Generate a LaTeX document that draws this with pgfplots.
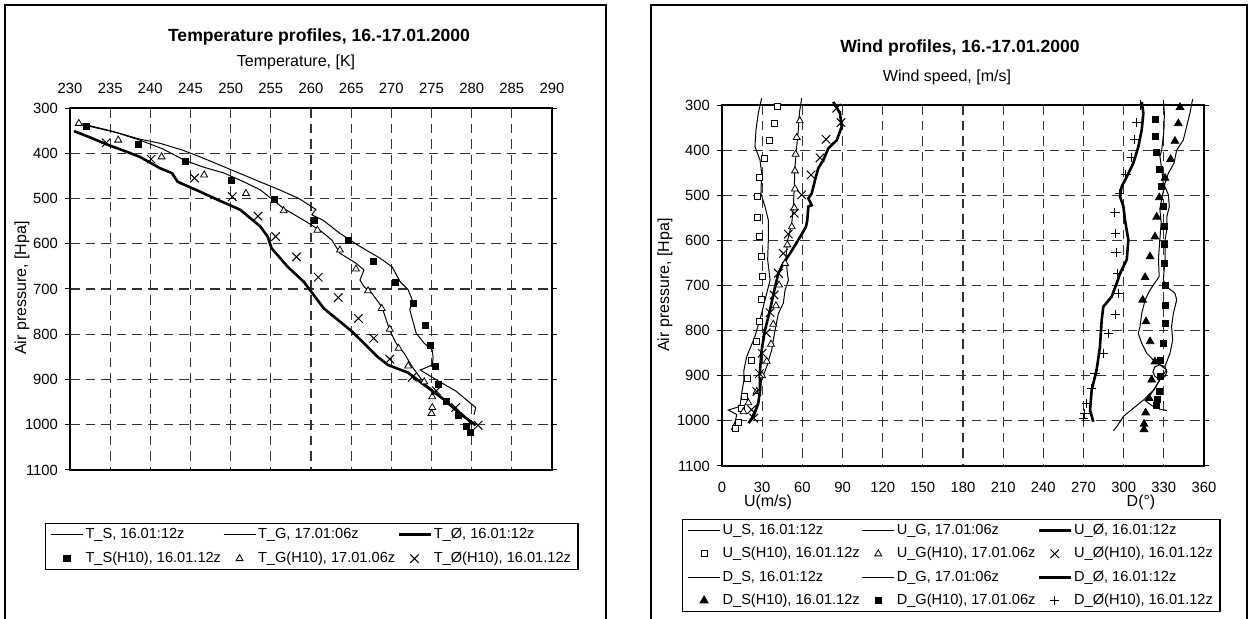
\documentclass[border=0pt]{standalone}
\usepackage{fontspec}
\setmainfont{Liberation Sans}
\usepackage{pgfplots}
\pgfplotsset{compat=1.18}
\newcommand\fs[1]{\fontsize{#1}{#1}\selectfont}
\pgfplotsset{
  limg/.style={legend image code/.code={\draw[mark repeat=2,mark phase=2,##1] plot coordinates {(0pt,0pt) (8pt,0pt) (16pt,0pt)};}},
  common/.style={
    scale only axis, width=241pt,
    y dir=reverse, ymin=300, ymax=1100, ytick={300,400,...,1100},
    grid=major,
    major grid style={dash pattern=on 4.8pt off 3pt, black!80, line width=0.55pt},
    axis line style={line width=0.6pt},
    tick align=outside, major tick length=2.5pt,
    ytick style={black, line width=0.5pt},
    xtick style={draw=none},
    ticklabel style={font=\fs{7.4}},
    /pgf/number format/assume math mode=true,
    /pgf/number format/1000 sep={},
    legend columns=3,
    legend cell align=left,
    legend style={font=\fs{7.3}, draw=black, line width=0.6pt, inner xsep=2.5pt, inner ysep=2pt,
      nodes={inner xsep=1pt, inner ysep=0pt, text height=5.3pt, text depth=1.5pt}},
    limg,
  },
  thinl/.style={black, line width=0.5pt, no marks, limg},
  thickl/.style={black, line width=1.3pt, no marks, limg},
  sqf/.style={only marks, mark=square*, mark size=1.5pt, mark options={fill=black, draw=black}, limg},
  sqo/.style={only marks, mark=square*, mark size=1.5pt, mark options={fill=white, draw=black, line width=0.4pt}, limg},
  tro/.style={only marks, mark=triangle*, mark size=2pt, mark options={fill=white, draw=black, line width=0.4pt}, limg},
  trf/.style={only marks, mark=triangle*, mark size=2.2pt, mark options={fill=black, draw=black}, limg},
  xm/.style={only marks, mark=x, mark size=3pt, mark options={black, line width=0.5pt}, limg},
  pm/.style={only marks, mark=+, mark size=2.3pt, mark options={black, line width=0.5pt}, limg},
}
\begin{document}
\begin{tikzpicture}
\useasboundingbox (0,0) rectangle (624.5pt,309.5pt);
% panel frames
\draw[line width=0.7pt] (2.5pt,0pt) -- (2.5pt,307pt) -- (303pt,307pt) -- (303pt,0pt);
\draw[line width=0.7pt] (325.5pt,0pt) -- (325.5pt,307pt) -- (623.5pt,307pt) -- (623.5pt,0pt);
% titles and labels
\node[font=\bfseries\fs{8.8}] at (159.5pt,291pt) {Temperature profiles, 16.-17.01.2000};
\node[font=\fs{8}] at (148pt,278.5pt) {Temperature, [K]};
\node[font=\fs{8}, rotate=90] at (11pt,165.5pt) {Air pressure, [Hpa]};
\node[font=\bfseries\fs{8.8}] at (480pt,285.5pt) {Wind profiles, 16.-17.01.2000};
\node[font=\fs{8}] at (473.5pt,271pt) {Wind speed, [m/s]};
\node[font=\fs{8}, rotate=90] at (332.5pt,167pt) {Air pressure, [Hpa]};
\node[font=\fs{8}] at (384pt,58.5pt) {U(m/s)};
\node[font=\fs{8}] at (570.5pt,58.5pt) {D(°)};

% ---------------- Temperature ----------------
\begin{axis}[common,
  at={(35pt,74.5pt)}, anchor=south west, height=181pt,
  xmin=230, xmax=290, xtick={230,235,...,290},
  xticklabel pos=upper,
  xticklabel style={yshift=1.2pt},
  legend style={at={(-0.052,-0.146)}, anchor=north west, row sep=5.4pt},
]
\addplot[thinl] coordinates {
(232.3,340) (233.5,345) (236,355) (238.5,368) (241.2,378) (244,393) (246.2,408) (248.5,425)
(251.2,445) (253.5,462) (256.1,481) (258.5,500) (260.6,524) (260.1,536) (261.5,548) (263.6,577)
(266.1,606) (268.6,632) (270.1,651) (271.1,684) (272.1,702) (272.6,724) (272.3,746) (273.1,798)
(274.1,820) (275.1,835) (275.2,852) (275.1,868) (273.6,879) (276,905) (278,925) (280.5,962) (280.3,978)};
\addlegendentry{T\_S, 16.01:12z}
\addplot[thinl] coordinates {
(231.5,335) (235,350) (238.7,371) (241.5,390) (244.2,415) (246.5,430) (249.2,444) (251.5,462)
(253.7,481) (256.6,522) (259.1,548) (261.1,570) (262.6,592) (263.6,621) (265.6,643) (266.6,658)
(266.1,680) (266.6,695) (267.6,710) (268.8,739) (269.1,754) (269.8,791) (270.6,820) (271.6,842)
(272.6,872) (274.1,908) (275.6,930) (277.1,953) (279,978) (280,1001)};
\addlegendentry{T\_G, 17.01:06z}
\addplot[thickl] coordinates {
(230.5,351) (232.5,365) (234.5,380) (236.5,393) (238.7,408) (241.2,433) (242.7,444) (243.4,463)
(246.2,485) (248.4,503) (251.2,525) (253.7,562) (254.6,584) (255.1,610) (257.1,651) (259.1,684)
(261.6,743) (263.6,772) (265.1,794) (266.6,820) (268.3,850) (269.6,868) (272.1,885) (274.1,912)
(276.6,945) (278.5,975) (280.5,1001)};
\addlegendentry{T\_Ø, 16.01:12z}
\addplot[sqf] coordinates {
(232.1,341) (238.5,380) (244.4,419) (250.1,461) (255.4,503) (260.4,548) (264.7,593) (267.8,638)
(270.5,685) (272.7,732) (274.3,780) (274.9,825) (275.5,870) (275.8,910) (276.9,949) (278.4,980)
(279.4,1003) (279.8,1018)};
\addlegendentry{T\_S(H10), 16.01.12z}
\addplot[tro] coordinates {
(231.1,334) (236.0,371) (241.4,408) (246.7,448) (251.9,489) (256.6,527) (260.8,570) (263.6,614)
(265.6,656) (267.1,704) (268.8,743) (269.8,789) (270.9,831) (272.1,870) (274.1,905) (275.1,938)
(275.1,962) (275.0,975)};
\addlegendentry{T\_G(H10), 17.01.06z}
\addplot[xm] coordinates {
(234.5,377) (240.1,413) (245.5,455) (250.2,496) (253.4,539) (255.6,584) (258.2,629) (260.9,674)
(263.4,719) (265.9,765) (267.8,809) (269.8,855) (272.6,895) (275.6,925) (278.0,962) (280.8,1001)};
\addlegendentry{T\_Ø(H10), 16.01.12z}
\end{axis}

% ---------------- Wind ----------------
\begin{axis}[common,
  at={(361pt,76.5pt)}, anchor=south west, height=180.5pt,
  xmin=0, xmax=360, xtick={0,30,...,360},
  xticklabel style={yshift=-2pt},
  clip=false,
  legend style={at={(-0.083,-0.147)}, anchor=north west, row sep=4.9pt},
]
\addplot[thinl] coordinates {
(29.6,285) (27.1,318) (25.4,355) (24.6,392) (28.4,422) (29.6,451) (29.1,496) (32.1,525) (34.6,555)
(34.6,599) (34.1,643) (35.9,688) (33.4,717) (29.6,762) (24.6,813) (18.4,858) (16.4,887) (16.4,909)
(14.7,939) (13.4,968) (4.7,976) (11,986) (10,1000) (7,1020)};
\addlegendentry{U\_S, 16.01:12z}
\addplot[thinl] coordinates {
(59.5,285) (57.8,318) (57.0,355) (55.8,392) (54.5,437) (54.0,481) (53.3,525) (52.1,562) (49.1,599)
(47.8,636) (48.8,673) (49.6,688) (47.1,710) (45.8,739) (42.1,762) (39.6,799) (37.1,843) (33.4,880)
(29.6,909) (28.4,939) (25.9,968) (23.4,983) (20.9,998)};
\addlegendentry{U\_G, 17.01:06z}
\addplot[thickl] coordinates {
(83.1,293) (88.1,318) (89.4,348) (85.7,378) (79.4,396) (75.7,422) (71.9,440) (69.5,466) (67.0,496)
(64.5,507) (67.0,522) (64.5,525) (63.7,555) (62.7,570) (57.0,599) (50.8,629) (45.8,651) (42.1,673)
(39.6,703) (35.9,754) (32.1,799) (29.6,843) (28.4,887) (28.4,932) (27.1,961) (23.4,991) (19.7,1005)};
\addlegendentry{U\_Ø, 16.01:12z}
\addplot[sqo] coordinates {
(41.3,304) (38.8,341) (35.1,378) (31.6,418) (27.9,460) (26.4,503) (26.4,548) (27.9,592) (29.6,636)
(30.4,680) (29.6,731) (27.9,779) (25.4,823) (22.2,867) (19,905) (16.7,946) (14.2,972) (12.2,1004) (9.7,1016)};
\addlegendentry{U\_S(H10), 16.01.12z}
\addplot[tro] coordinates {
(58.1,335) (55.8,372) (55.0,409) (54.5,446) (54.5,486) (54.0,528) (52.1,570) (48.8,610) (47.1,651)
(42.6,699) (40.3,745) (38.3,786) (36.6,830) (33.4,868) (30,900) (25.9,935) (19.7,960) (16,980)};
\addlegendentry{U\_G(H10), 17.01.06z}
\addplot[xm] coordinates {
(85.7,307) (88.9,339) (77.7,376) (73.2,417) (66.5,455) (59.5,499) (54.0,540) (49.5,586) (45.8,629)
(42.1,673) (38.9,721) (35.9,760) (33,805) (30,850) (28,895) (26,935) (22,975) (23.7,994)};
\addlegendentry{U\_Ø(H10), 16.01.12z}
\addplot[thinl] coordinates {
(351.5,287) (349.5,318) (347.0,348) (344.5,378) (339.6,400) (337.6,429) (333.4,451) (330.9,473)
(329,500) (327,530) (328,560) (327,600) (326,640) (326.5,680) (324.7,688) (319.7,710) (316.0,732)
(313.5,762) (312.2,791) (310.9,806) (313.5,828) (317.2,850) (322.2,865) (327.1,876) (332,887)
(328,905) (322.2,932) (314.7,954) (307.2,972) (299.8,990) (294.8,1013) (292.3,1022)};
\addlegendentry{D\_S, 16.01:12z}
\addplot[thinl] coordinates {
(329.6,289) (330.4,318) (330.1,355) (328.4,400) (327.1,414) (328.4,443) (329.6,473) (333.4,499)
(334.1,525) (332.2,548) (332.2,577) (330.9,599) (330.9,643) (329.6,688) (332.2,703) (338.3,717)
(339.6,732) (337.1,762) (335.8,791) (336.6,821) (334.6,850) (330.8,880) (332.3,891) (330.8,902)
(327.1,906.5) (323.4,902) (321.9,891) (323.4,880) (327.1,875.5) (330.8,880) (332.3,891) (330.8,902)
(327.1,907) (324,925) (320,942) (316,955) (321,966) (327,974) (332.2,977)};
\addlegendentry{D\_G, 17.01:06z}
\addplot[thickl] coordinates {
(313.5,293) (314.7,318) (313.5,355) (311.0,392) (307.2,429) (302.3,459) (298.5,481) (297.3,503)
(299.8,525) (301.0,555) (303.5,599) (302.3,643) (297.3,673) (294.8,695) (291.0,725) (284.8,747)
(283.6,776) (282.3,836) (279.8,887) (276.1,932) (274.9,976) (277.3,1002)};
\addlegendentry{D\_Ø, 16.01:12z}
\addplot[trf] coordinates {
(342.1,305) (340.8,341) (338.3,380) (335.1,420) (330.9,462) (326.6,505) (324.7,548) (323.4,592)
(319.7,636) (316.0,682) (314.2,732) (316.7,780) (319.7,824) (323.4,869) (320.9,909) (319.1,950)
(316.4,982) (315.2,1007) (315.2,1019)};
\addlegendentry{D\_S(H10), 16.01.12z}
\addplot[sqf] coordinates {
(323.4,332) (323.4,369) (324.7,406) (326.6,443) (328.4,481) (329.6,524) (330.4,568) (330.1,610)
(330.1,652) (331.4,699) (331.4,743) (331.4,785) (329.6,828) (327.6,867) (327.6,902) (326.6,935)
(325.1,953) (324.7,965)};
\addlegendentry{D\_G(H10), 17.01.06z}
\addplot[pm] coordinates {
(312.7,300) (309.7,339) (307.9,376) (305.9,416) (301.7,455) (296.7,497) (293.5,539) (294.0,584)
(294.3,627) (295.5,673) (296.0,717) (294.0,764) (288.5,807) (284.8,850) (278.6,895) (276.1,928)
(272.4,961) (271.1,983) (269.9,994)};
\addlegendentry{D\_Ø(H10), 16.01.12z}
\end{axis}
\end{tikzpicture}
\end{document}
